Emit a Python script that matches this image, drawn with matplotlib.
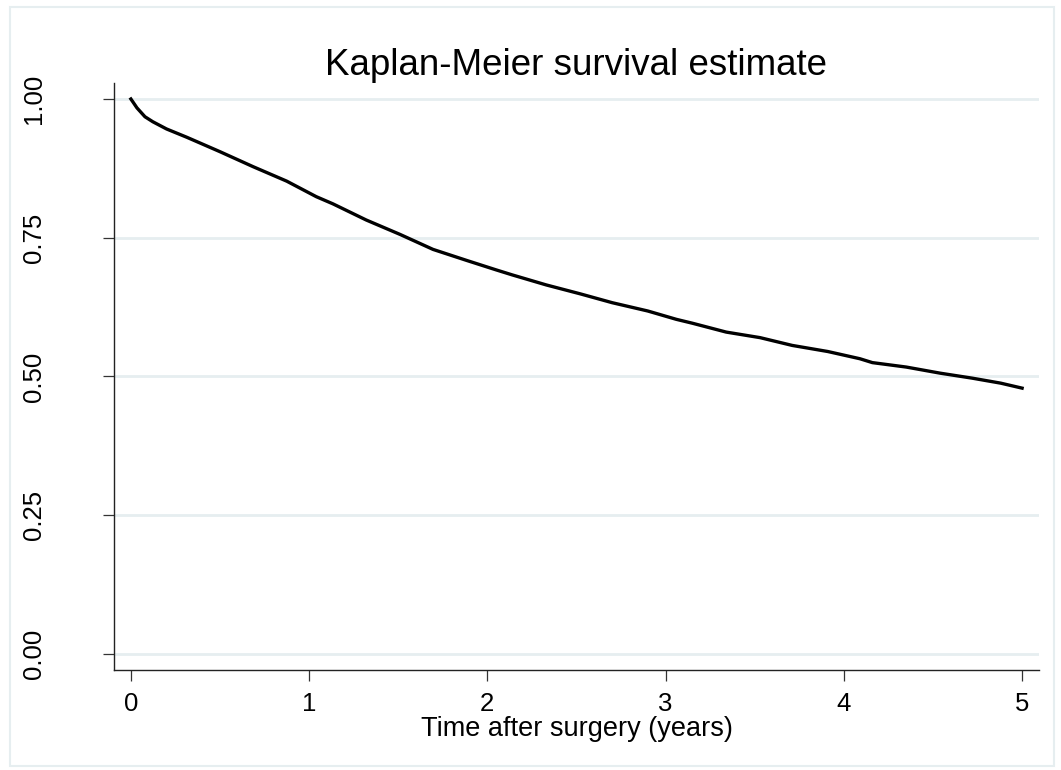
import numpy as np
import matplotlib
matplotlib.use('Agg')
import matplotlib.pyplot as plt
from matplotlib.patches import Rectangle

plt.rcParams['font.family'] = ['Liberation Sans', 'DejaVu Sans']

# Kaplan-Meier survival estimate (time in years)
time_years = [0.0, 0.015, 0.034, 0.079, 0.123, 0.20, 0.314, 0.50, 0.686, 0.874, 1.04, 1.134,
              1.32, 1.51, 1.695, 1.885, 2.05, 2.14, 2.33, 2.52, 2.70, 2.90,
              3.06, 3.15, 3.34, 3.53, 3.71, 3.91, 4.09, 4.16, 4.35,
              4.54, 4.72, 4.88, 5.0]
survival = [1.0, 0.993, 0.984, 0.968, 0.959, 0.946, 0.931, 0.905, 0.878, 0.852, 0.824, 0.811,
            0.782, 0.756, 0.729, 0.709, 0.692, 0.683, 0.665, 0.649, 0.633, 0.618,
            0.603, 0.596, 0.580, 0.570, 0.556, 0.545, 0.532, 0.525, 0.517,
            0.506, 0.497, 0.488, 0.479]

x_ticks = [0, 1, 2, 3, 4, 5]
y_ticks = [0.0, 0.25, 0.5, 0.75, 1.0]
y_ticklabels = ['0.00', '0.25', '0.50', '0.75', '1.00']

grid_col = '#e6eef0'

fig = plt.figure(figsize=(10.61, 7.70), dpi=100)
fig.patches.append(Rectangle((10 / 1061, 4 / 770), 1044 / 1061, 759 / 770,
                             transform=fig.transFigure, fill=False,
                             edgecolor=grid_col, linewidth=1.5))

ax = fig.add_axes([0.1074, 0.1299, 0.8719, 0.7623])
ax.plot(time_years, survival, color='black', linewidth=2.4, solid_joinstyle='round')

ax.set_xlim(-0.095, 5.095)
ax.set_ylim(-0.0288, 1.0288)
ax.set_xticks(x_ticks)
ax.set_yticks(y_ticks)
ax.set_yticklabels(y_ticklabels, rotation=90, va='center')

for y in y_ticks:
    ax.axhline(y, color=grid_col, linewidth=2, zorder=0)

for side in ['top', 'right']:
    ax.spines[side].set_visible(False)
for side in ['left', 'bottom']:
    ax.spines[side].set_color('#222222')
    ax.spines[side].set_linewidth(1.0)

ax.tick_params(axis='x', length=8, width=0.9, color='#333333', labelsize=18.5, pad=8)
ax.tick_params(axis='y', length=8, width=0.9, color='#333333', labelsize=18.5, pad=41)

ax.set_xlabel('Time after surgery (years)', fontsize=19.5, labelpad=0)
ax.set_title('Kaplan-Meier survival estimate', fontsize=26.5, pad=3)

fig.savefig('out.png', dpi=100)
